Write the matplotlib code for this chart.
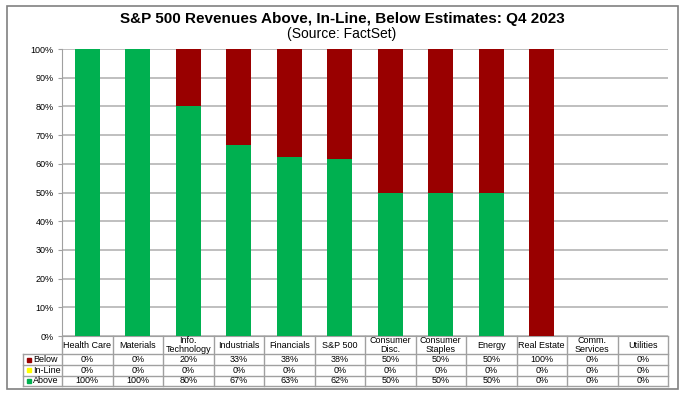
import matplotlib
matplotlib.use("Agg")
import matplotlib.pyplot as plt
import matplotlib.transforms as mtransforms
from matplotlib.patches import Rectangle
import numpy as np

plt.rcParams['font.family'] = ['Liberation Sans', 'DejaVu Sans']

# data
sectors = ["Health Care", "Materials", "Info.\nTechnology", "Industrials", "Financials",
           "S&P 500", "Consumer\nDisc.", "Consumer\nStaples", "Energy", "Real Estate",
           "Comm.\nServices", "Utilities"]
above = [100, 100, 80, 66.7, 62.5, 61.6, 50, 50, 50, 0, 0, 0]
inline = [0, 0, 0, 0, 0, 0, 0, 0, 0, 0, 0, 0]
below = [0, 0, 20, 33.3, 37.5, 38.4, 50, 50, 50, 100, 0, 0]

green = "#00B050"
yellow = "#FFFF00"
red = "#990000"
grid_c = "#B4B4B4"
line_c = "#A0A0A0"

W, H = 684, 396
fig = plt.figure(figsize=(W / 100, H / 100), dpi=100)

# outer frame
fig.patches.append(Rectangle((7 / W, 1 - 389 / H), 671 / W, 383 / H, transform=fig.transFigure,
                             fill=False, edgecolor="#808080", linewidth=1.2))

fig.text(0.5, 1 - 18.5 / H, "S&P 500 Revenues Above, In-Line, Below Estimates: Q4 2023",
         ha="center", va="center", fontsize=11, fontweight="bold")
fig.text(0.5, 1 - 34 / H, "(Source: FactSet)", ha="center", va="center", fontsize=10)

ax = fig.add_axes([62 / W, 1 - 336 / H, 606 / W, 287 / H])
x = np.arange(len(sectors))
ax.bar(x, above, width=0.5, color=green, zorder=3)
ax.bar(x, inline, width=0.5, bottom=above, color=yellow, zorder=3)
ax.bar(x, below, width=0.5, bottom=np.array(above) + np.array(inline), color=red, zorder=3)

ax.set_xlim(-0.5, len(sectors) - 0.5)
ax.set_ylim(0, 100)
ax.set_yticks(range(0, 101, 10))
ax.set_yticklabels([f"{v}%" for v in range(0, 101, 10)], fontsize=6.5)
ax.set_xticks([])
ax.yaxis.grid(True, color=grid_c, linewidth=1.2, zorder=0)
ax.tick_params(axis="y", length=3, color=line_c, pad=3)
for s in ["top", "right"]:
    ax.spines[s].set_visible(False)
ax.spines["left"].set_color(line_c)
ax.spines["bottom"].set_color(line_c)

# data table under the bars
tr = mtransforms.blended_transform_factory(ax.transData, ax.transAxes)
h = 287.0
rows = [0, -18 / h, -29 / h, -39.5 / h, -50 / h]
left = -0.5 - 39 / 50.5
right = len(sectors) - 0.5
lk = dict(color=line_c, linewidth=1, transform=tr, clip_on=False)

for r in rows[1:]:
    ax.plot([left, right], [r, r], **lk)
ax.plot([left, left], [rows[1], rows[4]], **lk)
for k in range(len(sectors) + 1):
    ax.plot([k - 0.5, k - 0.5], [rows[0], rows[4]], **lk)

for k, name in enumerate(sectors):
    ax.text(k, (rows[0] + rows[1]) / 2, name, transform=tr, ha="center", va="center",
            fontsize=6.5, linespacing=0.95)

series = [("Below", below, red), ("In-Line", inline, yellow), ("Above", above, green)]
for i, (lab, vals, col) in enumerate(series):
    yc = (rows[i + 1] + rows[i + 2]) / 2
    ax.plot([left + 0.12], [yc], marker="s", markersize=3, color=col, transform=tr,
            clip_on=False, linestyle="none")
    ax.text(left + 0.2, yc, lab, transform=tr, ha="left", va="center", fontsize=6.5)
    for k, v in enumerate(vals):
        ax.text(k, yc, f"{int(v + 0.5)}%", transform=tr, ha="center", va="center", fontsize=6.5)

fig.savefig("out.png", dpi=100)
